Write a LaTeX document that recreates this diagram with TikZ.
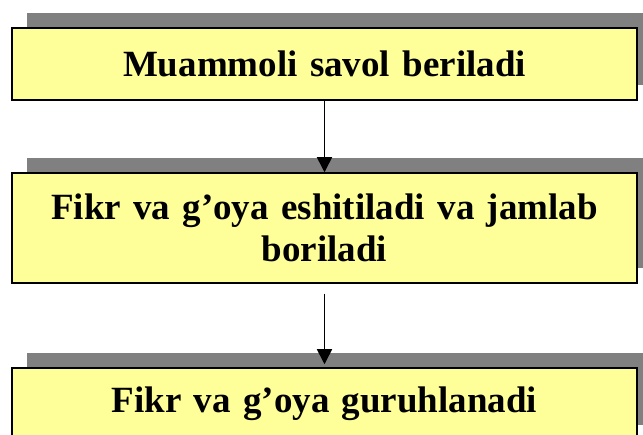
\documentclass[tikz,border=0pt]{standalone}
\usepackage{fontspec}
\setmainfont{Liberation Serif}
\usetikzlibrary{arrows.meta}
\definecolor{boxfill}{RGB}{255,255,153}
\definecolor{shadowgray}{RGB}{128,128,128}
\tikzset{
  stepbox/.style={draw=black, line width=1.5pt, fill=boxfill, minimum width=625pt,
    inner sep=0pt, align=center, font=\fontsize{37}{42}\selectfont\bfseries, text width=610pt},
  flowarrow/.style={draw=black, line width=1.6pt, -{Triangle[width=15pt,length=15pt]}}
}
\begin{document}
\begin{tikzpicture}[x=1pt,y=1pt]
\useasboundingbox (0,0) rectangle (643,-435);
\clip (0,0) rectangle (643,-435);
% shadows
\fill[shadowgray] (27,-13) rectangle (652,-85);
\fill[shadowgray] (27,-158) rectangle (652,-268);
\fill[shadowgray] (27,-353) rectangle (652,-425);
% boxes
\node[stepbox, minimum height=72pt] (b1) at (324.5,-64) {Muammoli savol beriladi};
\node[stepbox, minimum height=110pt] (b2) at (324.5,-228) {Fikr va g’oya eshitiladi va jamlab\\boriladi};
\node[stepbox, minimum height=72pt] (b3) at (324.5,-404) {Fikr va g’oya guruhlanadi};
% arrows
\coordinate (a2s) at ([yshift=-10pt]b2.south);
\draw[flowarrow] (b1.south) -- (b2.north);
\draw[flowarrow] (a2s) -- ([yshift=3pt]b3.north);
\end{tikzpicture}
\end{document}
